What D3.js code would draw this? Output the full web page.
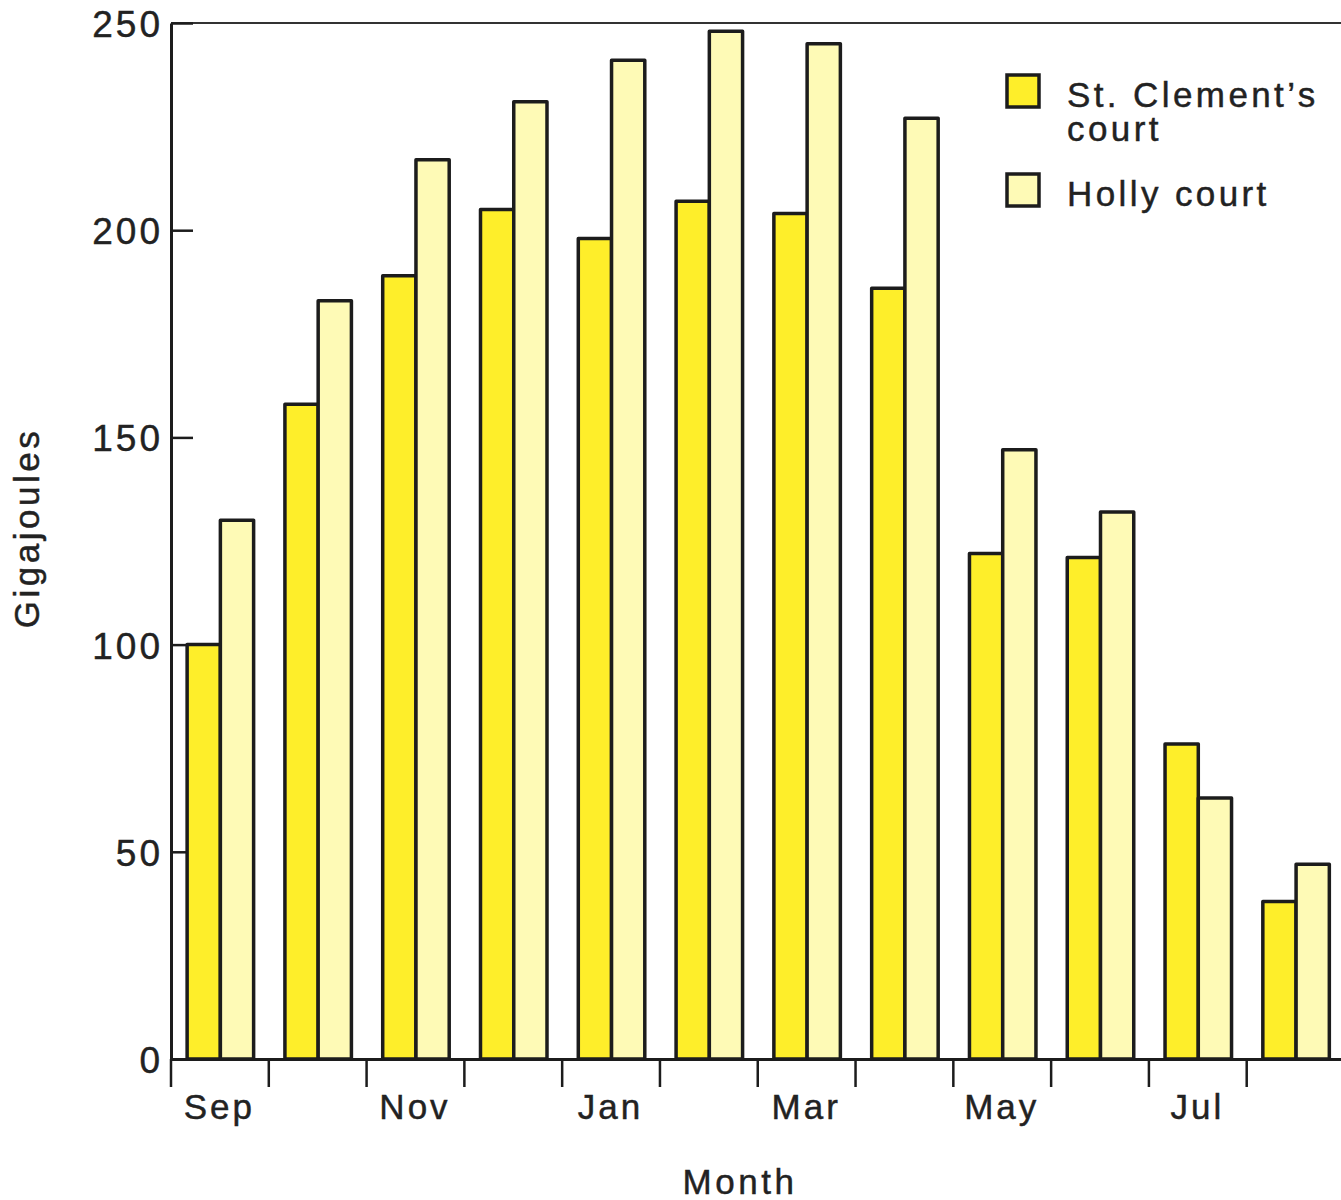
<!DOCTYPE html>
<html>
<head>
<meta charset="utf-8">
<script src="https://cdn.jsdelivr.net/npm/d3@7/dist/d3.min.js"></script>
<style>
  html, body { margin: 0; padding: 0; background: #fff; }
  svg { display: block; }
  text { font-family: "Liberation Sans", Arial, Helvetica, sans-serif; fill: #222; stroke: #222; stroke-width: 0.45; }
</style>
</head>
<body>
<svg id="chart" width="1341" height="1200"></svg>
<script>
// Monthly heat use, September to August, in gigajoules
const months = ["Sep", "Oct", "Nov", "Dec", "Jan", "Feb", "Mar", "Apr", "May", "Jun", "Jul", "Aug"];
const labelledMonths = ["Sep", "Nov", "Jan", "Mar", "May", "Jul"];
const seriesNames = ["St. Clement’s court", "Holly court"];
const stClements = [100, 158, 189, 205, 198, 207, 204, 186, 122, 121, 76, 38];
const holly = [130, 183, 217, 231, 241, 248, 245, 227, 147, 132, 63, 47];
const yTicks = [0, 50, 100, 150, 200, 250];

const colours = ["#feee2a", "#fefab6"];
const ink = "#1c1c1c";

const svg = d3.select("#chart");
const plotLeft = 171, plotRight = 1344, plotTop = 23, plotBottom = 1059;

const x0 = d3.scaleBand().domain(months).range([plotLeft - 0.5, plotRight]).padding(0);
const bw = x0.bandwidth();
const x1 = d3.scaleBand().domain(seriesNames).range([bw * 0.17, bw * 0.85]).padding(0);
const y = d3.scaleLinear().domain([0, 250]).range([plotBottom, plotTop]);

// Month boundaries, as positions along the band scale
const edges = d3.scaleLinear().domain([0, months.length]).range(x0.range());

// Frame top
svg.append("line")
  .attr("x1", plotLeft).attr("x2", 1341)
  .attr("y1", y(250)).attr("y2", y(250))
  .attr("stroke", "#333").attr("stroke-width", 2);

// Y axis with inward ticks
const yAxis = svg.append("g")
  .attr("transform", `translate(${plotLeft},0)`)
  .call(d3.axisLeft(y).tickValues(yTicks).tickSizeInner(-22).tickSizeOuter(0).tickPadding(8));
yAxis.select(".domain").attr("stroke", ink).attr("stroke-width", 3);
yAxis.selectAll(".tick line").attr("stroke", ink).attr("stroke-width", 2.5);
yAxis.selectAll(".tick text")
  .attr("font-size", 37).attr("dy", 13.5).attr("letter-spacing", 3)
  .attr("font-family", "\"Liberation Sans\", Arial, sans-serif").attr("fill", "#222");

// Bars
const rows = months.map((m, i) => ({ month: m, values: [stClements[i], holly[i]] }));
const groups = svg.append("g").selectAll("g")
  .data(rows).join("g")
  .attr("transform", d => `translate(${x0(d.month)},0)`);
groups.selectAll("rect")
  .data(d => d.values.map((v, k) => ({ key: seriesNames[k], value: v, k })))
  .join("rect")
  .attr("x", d => x1(d.key))
  .attr("width", x1.bandwidth())
  .attr("y", d => y(d.value))
  .attr("height", d => y(0) - y(d.value))
  .attr("fill", d => colours[d.k])
  .attr("stroke", ink)
  .attr("stroke-width", 3.5)
  .attr("stroke-linejoin", "round");

// X axis: baseline and month-boundary ticks
const xEdges = svg.append("g")
  .attr("transform", `translate(0,${plotBottom})`)
  .call(d3.axisBottom(edges).tickValues(d3.range(months.length + 1)).tickSize(28).tickSizeOuter(0).tickFormat(""));
xEdges.select(".domain").attr("stroke", ink).attr("stroke-width", 3);
xEdges.selectAll(".tick line").attr("stroke", ink).attr("stroke-width", 2.5);

// X axis month labels centred in their bands
const xLabels = svg.append("g")
  .attr("transform", `translate(0,${plotBottom})`)
  .call(d3.axisBottom(x0).tickValues(labelledMonths).tickSize(0).tickPadding(0));
xLabels.select(".domain").remove();
xLabels.selectAll(".tick text")
  .attr("font-size", 35).attr("dy", 60).attr("letter-spacing", 3)
  .attr("font-family", "\"Liberation Sans\", Arial, sans-serif").attr("fill", "#222");

// Axis titles
svg.append("text")
  .attr("x", 740).attr("y", 1194)
  .attr("text-anchor", "middle")
  .attr("font-size", 35).attr("letter-spacing", 3.5)
  .text("Month");

svg.append("text")
  .attr("transform", "translate(39,528) rotate(-90)")
  .attr("text-anchor", "middle")
  .attr("font-size", 35).attr("letter-spacing", 3.5)
  .text("Gigajoules");

// Legend: swatch plus a label that may wrap onto two lines
const legend = svg.append("g");
const legendItems = [
  { colour: colours[0], y: 75, lines: ["St. Clement’s", "court"] },
  { colour: colours[1], y: 174, lines: ["Holly court"] }
];
legendItems.forEach(item => {
  legend.append("rect")
    .attr("x", 1007).attr("y", item.y)
    .attr("width", 32).attr("height", 32)
    .attr("fill", item.colour)
    .attr("stroke", ink).attr("stroke-width", 3.5);
  const label = legend.append("text")
    .attr("x", 1067).attr("y", item.y + 32)
    .attr("font-size", 35).attr("letter-spacing", 3.4);
  item.lines.forEach((line, j) => {
    label.append("tspan")
      .attr("x", 1067)
      .attr("dy", j === 0 ? 0 : 34)
      .text(line);
  });
});
</script>
</body>
</html>
